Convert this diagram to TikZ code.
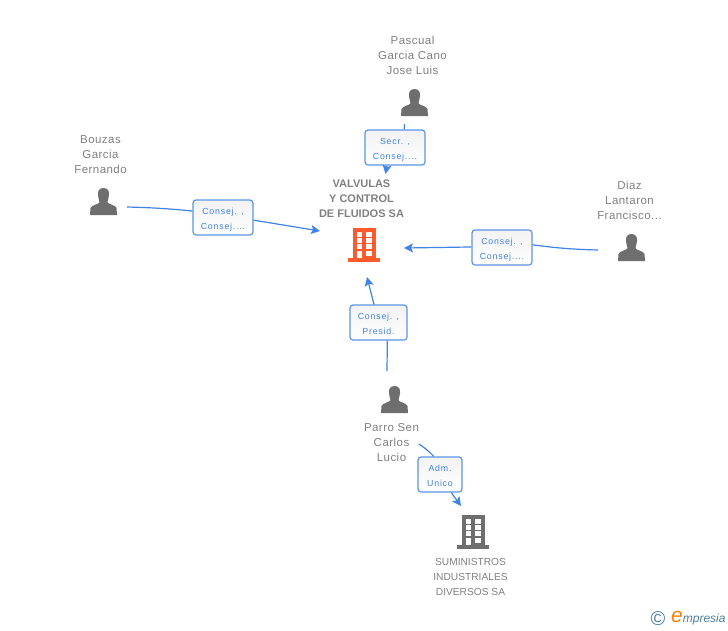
\documentclass[tikz,border=0pt]{standalone}
\usepackage{fontspec}
\setmainfont{Liberation Sans}
\usetikzlibrary{arrows.meta}
\definecolor{linkblue}{HTML}{3F83E6}
\definecolor{boxblue}{HTML}{5B95EA}
\definecolor{textgrey}{HTML}{808080}
\definecolor{iconred}{HTML}{FF5A2E}
\definecolor{icongrey}{HTML}{6E6E6E}
\definecolor{brandteal}{HTML}{4A7F9F}
\newfontfamily\labelfont[LetterSpace=4]{Liberation Sans}
\newfontfamily\boxfont[LetterSpace=9]{Liberation Sans}
\tikzset{
    who/.style={align=center, text=textgrey, inner sep=0, font=\labelfont\fontsize{11.5}{15}\selectfont},
    firm/.style={align=center, text=textgrey, inner sep=0, font=\fontsize{10.2}{15}\selectfont},
    mainfirm/.style={align=center, text=textgrey, inner sep=0, font=\bfseries\fontsize{11}{15}\selectfont},
    role/.style={draw=boxblue, line width=1.2, rounded corners=3, top color=black!5, bottom color=white, text=linkblue, align=center, inner sep=0, minimum height=35, text height=24, text depth=1, font=\boxfont\fontsize{8.8}{15}\selectfont},
    link/.style={color=linkblue, line width=1.2},
    linkto/.style={link, -{Stealth[length=9,width=9,inset=2]}},
    person/.pic={
        \fill[icongrey] (13.5,0) .. controls (9,0) and (7.5,3.5) .. (8,7) .. controls (8.3,10) and (9,12) .. (9.5,14) .. controls (9,16.5) and (2,16.5) .. (0.5,20) -- (0,27) -- (27,27) -- (26.5,20) .. controls (25,16.5) and (18,16.5) .. (17.5,14) .. controls (18,12) and (18.7,10) .. (19,7) .. controls (19.5,3.5) and (18,0) .. (13.5,0) -- cycle;
    },
    building/.pic={
        \fill[pic actions] (5,0) rectangle (28,30);
        \fill[pic actions] (0,30) rectangle (32,34);
        \foreach \wy in {4,10,16} {
            \fill[white] (9,\wy) rectangle (14,\wy+4.5);
            \fill[white] (18,\wy) rectangle (24,\wy+4.5);
        }
        \fill[white] (9,23) rectangle (14,30);
        \fill[white] (18,23) rectangle (24,27.5);
    },
}

\begin{document}
\begin{tikzpicture}[x=1pt, y=-1pt]
    \useasboundingbox (0,0) rectangle (728,630);

    \node[who] (pascual) at (412.5,55) {Pascual\\Garcia Cano\\Jose Luis};
    \node[who] (bouzas) at (100.5,154.5) {Bouzas\\Garcia\\Fernando};
    \node[who] (diaz) at (629.5,200) {Diaz\\Lantaron\\Francisco...};
    \node[who] (parro) at (391.5,442.5) {Parro Sen\\Carlos\\Lucio};
    \node[mainfirm] (valvulas) at (361.5,199) {VALVULAS\\Y CONTROL\\DE FLUIDOS SA};
    \node[firm] (suministros) at (470.5,577) {SUMINISTROS\\INDUSTRIALES\\DIVERSOS SA};

    \pic at (401,89) {person};
    \pic at (90,188) {person};
    \pic at (618,234) {person};
    \pic at (381,386) {person};
    \pic[fill=iconred] at (348,228) {building};
    \pic[fill=icongrey] at (457,515) {building};

    \node[role, minimum width=60] (secr) at (395,147.5) {Secr. ,\\Consej....};
    \node[role, minimum width=60] (consejb) at (223,217.5) {Consej. ,\\Consej....};
    \node[role, minimum width=60] (consejd) at (502,247.5) {Consej. ,\\Consej....};
    \node[role, minimum width=57] (presid) at (378.5,322.5) {Consej. ,\\Presid.};
    \node[role, minimum width=44] (adm) at (440,474.5) {Adm.\\Unico};

    \coordinate (pascualout) at (404.5,124);
    \coordinate (bouzasout) at (127,207);
    \coordinate (diazout) at (598,250);
    \coordinate (parroout) at (387,371);
    \coordinate (adminout) at (419,444);
    \coordinate (mainn) at (385.5,174);
    \coordinate (mainw) at (320,231);
    \coordinate (maine) at (404,248);
    \coordinate (mains) at (367,277);
    \coordinate (supplyn) at (461,506);

    \path[link] (pascualout) edge (secr.63);
    \path[linkto] (secr.-114) edge (mainn);
    \path[link] (bouzasout) edge[bend left=2] (consejb.168);
    \path[linkto] (consejb.-5) edge (mainw);
    \path[link] (diazout) edge[bend left=3] (consejd.5);
    \path[linkto] (consejd.179) edge (maine);
    \path[link] (parroout) edge (presid.-64);
    \path[linkto] (presid.104) edge (mains);
    \path[link] (adminout) edge[bend left=6] (adm.109);
    \path[linkto] (adm.-58) edge (supplyn);

    \node[inner sep=0, text=brandteal, font=\fontsize{20}{20}\selectfont] (copyr) at (658,619) {\textcopyright};
    \node[anchor=west, inner sep=0, text=brandteal, font=\itshape\fontsize{12}{12}\selectfont] (brand) at (671,618.5) {\textcolor{orange}{\fontsize{21}{21}\selectfont e}mpresia};
\end{tikzpicture}
\end{document}
